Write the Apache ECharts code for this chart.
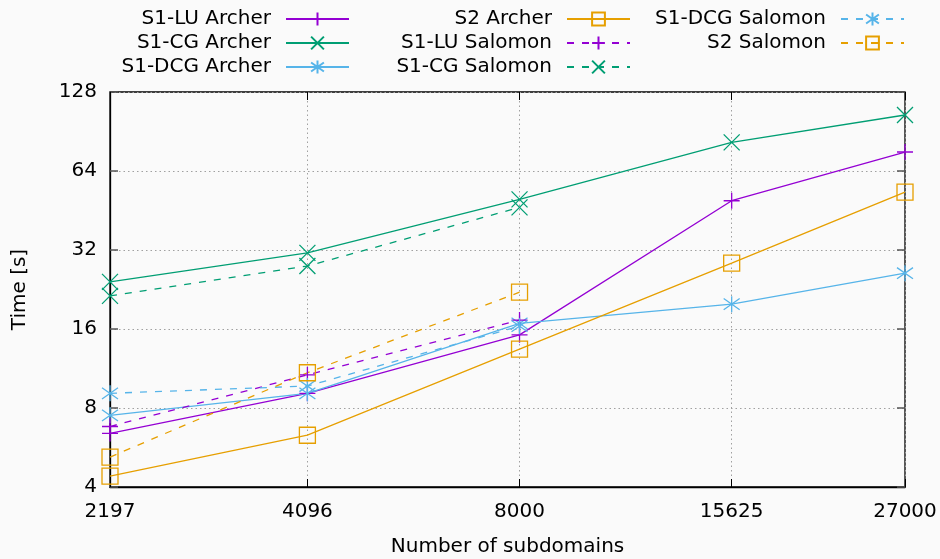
<!DOCTYPE html>
<html>
<head>
<meta charset="utf-8">
<script src="https://cdn.jsdelivr.net/npm/echarts@6/dist/echarts.min.js"></script>
<style>
  html, body { margin: 0; padding: 0; background: #fafafa; }
  #chart { width: 940px; height: 559px; }
</style>
</head>
<body>
<div id="chart"></div>
<script>
// x values (number of subdomains) and y ticks
var subdomains = [2197, 4096, 8000, 15625, 27000];
var yTicks = [4, 8, 16, 32, 64, 128];

// run times in seconds
var luArcher = [6.4, 9.1, 15.2, 49.3, 75.6];
var cgArcher = [24.2, 31.2, 49.9, 82.3, 104.6];
var dcgArcher = [7.5, 9.1, 16.8, 19.9, 26.1];
var s2Archer = [4.4, 6.3, 13.4, 28.5, 53.2];
var luSalomon = [6.8, 10.7, 17.3];
var cgSalomon = [21.4, 27.8, 46.5];
var dcgSalomon = [9.1, 9.7, 16.4];
var s2Salomon = [5.2, 10.9, 22.1];

var PURPLE = '#9400d3', GREEN = '#009e73', BLUE = '#56b4e9', ORANGE = '#e69f00';
var FONT = 'DejaVu Sans';
var FS = 20;

// gnuplot-like point types
var SYM_PLUS = 'path://M5,0L5,10M0,5L10,5';
var SYM_X = 'path://M0,0L10,10M10,0L0,10';
var SYM_STAR = 'path://M5,0L5,10M0,1.5L10,8.5M10,1.5L0,8.5';
var SYM_BOX = 'path://M0,0L10,0L10,10L0,10Z';

function pairs(vals) {
  return vals.map(function (v, i) { return [subdomains[i], v]; });
}

function mkSeries(name, vals, color, symbol, dashed) {
  return {
    name: name,
    type: 'line',
    data: pairs(vals),
    symbol: symbol,
    symbolSize: 16,
    showSymbol: true,
    animation: false,
    lineStyle: { color: color, width: 1.3, type: dashed ? [7, 8] : 'solid' },
    itemStyle: { color: 'rgba(0,0,0,0)', borderColor: color, borderWidth: 1.3 },
    emphasis: { disabled: true }
  };
}

function mkLegend(names, right) {
  return {
    orient: 'vertical',
    right: right,
    top: 4,
    align: 'right',
    itemWidth: 63,
    itemHeight: 16,
    itemGap: 4,
    selectedMode: false,
    data: names,
    textStyle: { fontFamily: FONT, fontSize: FS, color: '#000', padding: [0, 10, 0, 0] }
  };
}

var gridLine = { show: true, lineStyle: { color: '#a0a0a0', type: [1.5, 3], width: 1 } };

var chart = echarts.init(document.getElementById('chart'));
chart.setOption({
  backgroundColor: '#fafafa',
  animation: false,
  legend: [
    mkLegend(['S1-LU Archer', 'S1-CG Archer', 'S1-DCG Archer'], 585),
    mkLegend(['S2 Archer', 'S1-LU Salomon', 'S1-CG Salomon'], 304),
    mkLegend(['S1-DCG Salomon', 'S2 Salomon'], 30)
  ],
  grid: { left: 110, right: 35, top: 92, bottom: 72, show: true, borderColor: '#000', borderWidth: 1.3,
    outerBoundsMode: 'none', containLabel: false },
  xAxis: [
    {
      type: 'log',
      min: 2197,
      max: 27000,
      name: 'Number of subdomains',
      nameLocation: 'middle',
      nameGap: 50,
      nameTextStyle: { fontFamily: FONT, fontSize: FS, color: '#000' },
      axisLine: { show: true, lineStyle: { color: '#000', width: 1.3 } },
      axisTick: { show: true, inside: true, length: 8, customValues: subdomains, lineStyle: { color: '#000' } },
      axisLabel: { customValues: subdomains, fontFamily: FONT, fontSize: FS, color: '#000', margin: 15,
        formatter: function (v) { return String(Math.round(v)); } },
      splitLine: gridLine,
      minorTick: { show: false }
    },
    {
      type: 'log',
      position: 'top',
      min: 2197,
      max: 27000,
      axisLine: { show: false },
      axisTick: { show: true, inside: true, length: 8, customValues: subdomains, lineStyle: { color: '#000' } },
      axisLabel: { show: false },
      splitLine: { show: false }
    }
  ],
  yAxis: [
    {
      type: 'log',
      logBase: 2,
      min: 4,
      max: 128,
      name: 'Time [s]',
      nameLocation: 'middle',
      nameRotate: 90,
      nameGap: 80,
      nameTextStyle: { fontFamily: FONT, fontSize: FS, color: '#000' },
      axisLine: { show: true, lineStyle: { color: '#000', width: 1.3 } },
      axisTick: { show: true, inside: true, length: 8, customValues: yTicks, lineStyle: { color: '#555', width: 1.5 } },
      axisLabel: { customValues: yTicks, fontFamily: FONT, fontSize: FS, color: '#000', margin: 13,
        formatter: function (v) { return String(Math.round(v)); } },
      splitLine: gridLine
    },
    {
      type: 'log',
      logBase: 2,
      min: 4,
      max: 128,
      position: 'right',
      axisLine: { show: false },
      axisTick: { show: true, inside: true, length: 8, customValues: yTicks, lineStyle: { color: '#555', width: 1.5 } },
      axisLabel: { show: false },
      splitLine: { show: false }
    }
  ],
  series: [
    mkSeries('S1-LU Archer', luArcher, PURPLE, SYM_PLUS, false),
    mkSeries('S1-CG Archer', cgArcher, GREEN, SYM_X, false),
    mkSeries('S1-DCG Archer', dcgArcher, BLUE, SYM_STAR, false),
    mkSeries('S2 Archer', s2Archer, ORANGE, SYM_BOX, false),
    mkSeries('S1-LU Salomon', luSalomon, PURPLE, SYM_PLUS, true),
    mkSeries('S1-CG Salomon', cgSalomon, GREEN, SYM_X, true),
    mkSeries('S1-DCG Salomon', dcgSalomon, BLUE, SYM_STAR, true),
    mkSeries('S2 Salomon', s2Salomon, ORANGE, SYM_BOX, true)
  ]
});
</script>
</body>
</html>
